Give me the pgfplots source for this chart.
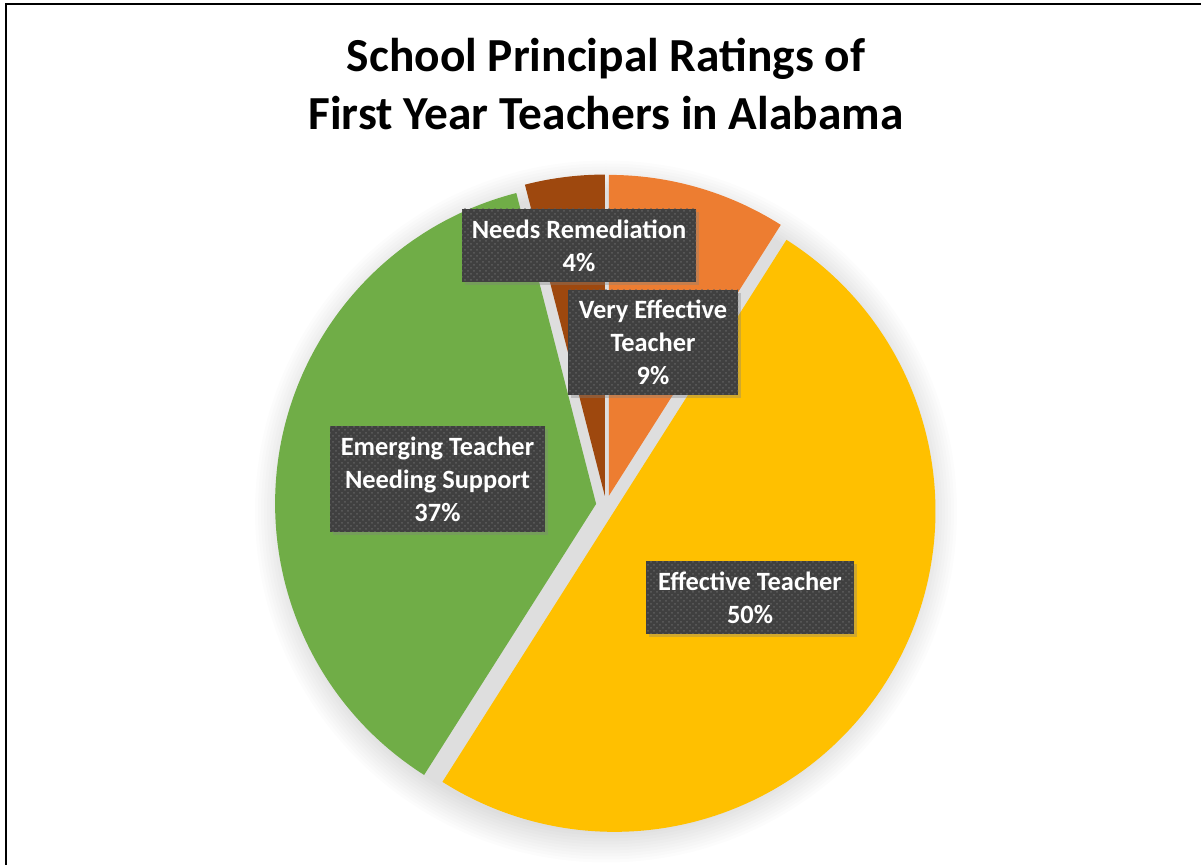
\documentclass[border=0pt]{standalone}
\usepackage{pgfplots}
\pgfplotsset{compat=1.18}
\usepackage{pgfplotstable}
\usepackage{fontspec}
\setmainfont{Carlito}
\usetikzlibrary{calc, patterns, shadows}

\definecolor{veryeff}{HTML}{ED7D31}
\definecolor{eff}{HTML}{FFC000}
\definecolor{emerg}{HTML}{70AD47}
\definecolor{needs}{HTML}{9E480E}
\definecolor{labelfill}{HTML}{404040}
\definecolor{labeldots}{HTML}{5E5E5E}

% share of each rating (%), clockwise from 12 o'clock
\pgfplotstableread{
rating value
VeryEffective 9
Effective 50
Emerging 37
Needs 4
}\piedata

\pgfplotstablegetelem{0}{value}\of\piedata \edef\vA{\pgfplotsretval}
\pgfplotstablegetelem{1}{value}\of\piedata \edef\vB{\pgfplotsretval}
\pgfplotstablegetelem{2}{value}\of\piedata \edef\vC{\pgfplotsretval}
\pgfplotstablegetelem{3}{value}\of\piedata \edef\vD{\pgfplotsretval}
\pgfmathsetmacro\sA{0}
\pgfmathsetmacro\sB{\sA+3.6*\vA}
\pgfmathsetmacro\sC{\sB+3.6*\vB}
\pgfmathsetmacro\sD{\sC+3.6*\vC}
\pgfmathsetmacro\sE{\sD+3.6*\vD}

% centre in px, radius and explosion in pt (1px = 0.5pt)
\def\cx{606}\def\cy{505.5}
\def\rad{160.5pt}\def\expl{5pt}

% angles are worked out now and expanded into the path, since the axis
% only replays the path later
\newcommand\slice[3]{%
  \pgfmathsetmacro\sliceMid{90-(#1+#2)/2}%
  \pgfmathsetmacro\sliceA{90-#1}%
  \pgfmathsetmacro\sliceB{90-#2}%
  \edef\doslice{\noexpand\fill[#3]
    ($(axis cs:\cx,\cy)+(\sliceMid:\expl)$) -- ++(\sliceA:\rad)
    arc[start angle=\sliceA, end angle=\sliceB, radius=\rad] -- cycle;}%
  \doslice}

\tikzset{
  lbl/.style={fill=labelfill, text=white, align=center, inner sep=0pt,
    font=\fontsize{13.2}{16.5}\selectfont\bfseries,
    drop shadow={shadow xshift=1.5pt, shadow yshift=-1.5pt, opacity=0.35},
    postaction={pattern=crosshatch dots, pattern color=labeldots}}
}

\begin{document}
\begin{tikzpicture}
\begin{axis}[
  at={(0,0)}, anchor=south west,
  width=600.5pt, height=432.5pt, scale only axis,
  xmin=0, xmax=1201, ymin=0, ymax=865, y dir=reverse,
  hide axis, clip=false
]
% soft glow behind the pie
\pgfplotsinvokeforeach{30,27,24,21,18,15,12,9,6,3,0}{
  \fill[black, opacity=0.011] (axis cs:\cx,\cy+6) circle[radius=160.5pt+#1*0.5pt];
}
\slice{\sA}{\sB}{veryeff}
\slice{\sB}{\sC}{eff}
\slice{\sC}{\sD}{emerg}
\slice{\sD}{\sE}{needs}

\node[lbl, minimum width=117pt, minimum height=36.5pt] at (axis cs:579,245.5)
  {Needs Remediation\\\vD\%};
\node[lbl, minimum width=85pt, minimum height=52.5pt] at (axis cs:653,342.5)
  {Very Effective\\Teacher\\\vA\%};
\node[lbl, minimum width=107.5pt, minimum height=53pt] at (axis cs:437.5,479)
  {Emerging Teacher\\Needing Support\\\vC\%};
\node[lbl, minimum width=104pt, minimum height=36.5pt] at (axis cs:750,597.5)
  {Effective Teacher\\\vB\%};

\node[anchor=base, font=\fontsize{23.7}{29}\selectfont\bfseries] at (axis cs:606,72)
  {School Principal Ratings of};
\node[anchor=base, font=\fontsize{23.7}{29}\selectfont\bfseries] at (axis cs:606,130)
  {First Year Teachers in Alabama};

\draw[line width=1pt] (axis cs:6,865) -- (axis cs:6,4.5) -- (axis cs:1201,4.5);
\end{axis}
\pgfresetboundingbox
\useasboundingbox (0,0) rectangle (600.5pt,432.5pt);
\end{tikzpicture}
\end{document}
